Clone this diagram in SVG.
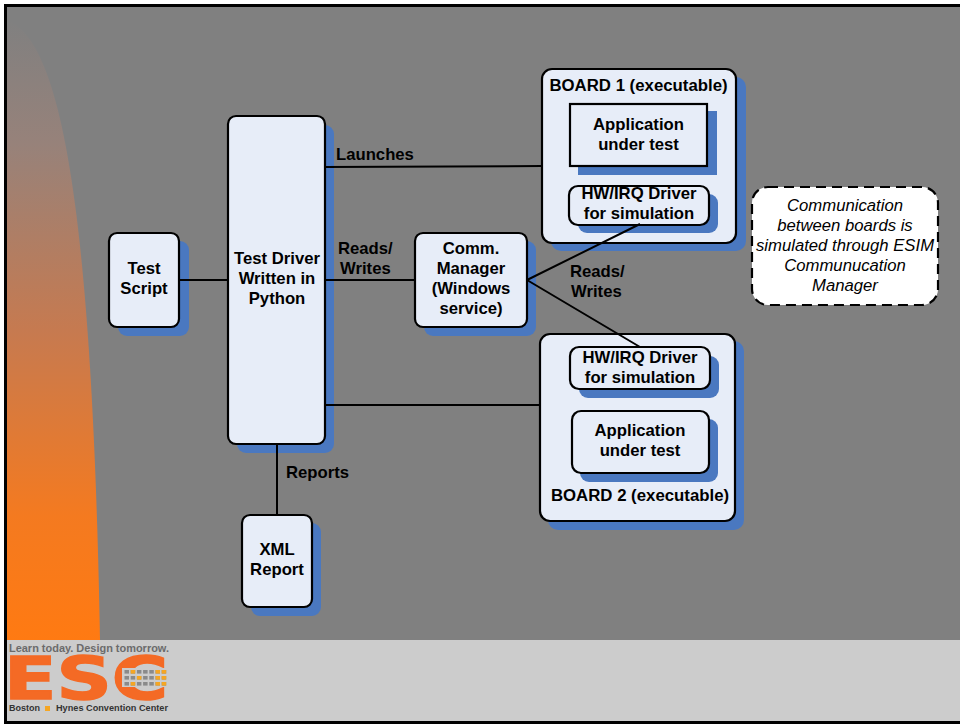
<svg xmlns="http://www.w3.org/2000/svg" width="960" height="724" viewBox="0 0 960 724">
<defs>
<linearGradient id="sw" x1="0" y1="0" x2="0" y2="1"><stop offset="0" stop-color="#808080"/><stop offset="0.2" stop-color="#97827a"/><stop offset="0.5" stop-color="#c67a50"/><stop offset="0.8" stop-color="#f47a20"/><stop offset="1" stop-color="#ff7a12"/></linearGradient>
<g id="dotrow"><rect x="0" width="4.5" height="3.6"/><rect x="6.2" width="4.5" height="3.6"/><rect x="12.4" width="4.5" height="3.6"/><rect x="18.6" width="4.5" height="3.6"/><rect x="24.8" width="4.5" height="3.6"/><rect x="31" width="4.5" height="3.6"/><rect x="37.2" width="4.5" height="3.6"/></g>
</defs>
<style>
text{font-family:"Liberation Sans",Arial,sans-serif;fill:#000}
.l{font-size:16.7px;font-weight:bold;text-anchor:middle}
.s{fill:#4a78c0}
.b{fill:#e7edf8;stroke:#000;stroke-width:2.2}
.c{stroke:#000;stroke-width:2;fill:none}
.d{fill:#f5a623}.g{fill:#8a8a8a}
</style>
<rect width="960" height="724" fill="#fff"/>
<rect x="4" y="4" width="956" height="720" fill="#000"/>
<rect x="7" y="7" width="953" height="633" fill="#808080"/>
<path d="M7 20C60 40 92 200 100 640H7Z" fill="url(#sw)"/>
<rect x="7" y="640" width="953" height="81" fill="#cccccc"/>
<g id="test-script"><rect class="s" x="118" y="241" width="71" height="95" rx="9"/><rect class="b" x="109" y="233" width="70" height="94" rx="8"/><text class="l" x="144" y="274">Test</text><text class="l" x="144" y="294">Script</text></g>
<g id="test-driver"><rect class="s" x="237" y="125" width="97" height="328" rx="9"/><rect class="b" x="228" y="116" width="97" height="328" rx="8"/><text class="l" x="277" y="264">Test Driver</text><text class="l" x="277" y="284">Written in</text><text class="l" x="277" y="304">Python</text></g>
<g id="comm-manager"><rect class="s" x="424" y="241" width="112" height="95" rx="9"/><rect class="b" x="415" y="233" width="112" height="94" rx="8"/><text class="l" x="471" y="254">Comm.</text><text class="l" x="471" y="274">Manager</text><text class="l" x="471" y="294">(Windows</text><text class="l" x="471" y="314">service)</text></g>
<g id="board-1"><rect class="s" x="551" y="77" width="195" height="174" rx="10"/><rect class="b" x="542" y="69" width="194" height="174" rx="10"/><text class="l" x="638.500" y="91" style="font-size:16.8px">BOARD 1 (executable)</text>
<g id="app-1"><rect class="s" x="578" y="111" width="139" height="64"/><rect class="b" x="570" y="104" width="137" height="62"/><text class="l" x="638.500" y="130">Application</text><text class="l" x="638.500" y="150">under test</text></g>
<g id="hw-1"><rect class="s" x="578" y="194" width="140" height="39" rx="9"/><rect class="b" x="569" y="186" width="140" height="39" rx="9"/><text class="l" x="639" y="199">HW/IRQ Driver</text><text class="l" x="639" y="219">for simulation</text></g></g>
<g id="board-2"><rect class="s" x="548" y="341" width="196" height="189" rx="10"/><rect class="b" x="540" y="334" width="195" height="187" rx="10"/>
<g id="hw-2"><rect class="s" x="579" y="356" width="140" height="42" rx="9"/><rect class="b" x="570" y="347" width="140" height="42" rx="9"/><text class="l" x="640" y="363">HW/IRQ Driver</text><text class="l" x="640" y="383">for simulation</text></g>
<g id="app-2"><rect class="s" x="580" y="419" width="138" height="63" rx="9"/><rect class="b" x="572" y="411" width="137" height="62" rx="9"/><text class="l" x="640" y="436">Application</text><text class="l" x="640" y="456">under test</text></g>
<text class="l" x="640" y="501" style="font-size:16.8px">BOARD 2 (executable)</text></g>
<g id="xml-report"><rect class="s" x="251" y="523" width="70" height="93" rx="9"/><rect class="b" x="242" y="515" width="70" height="92" rx="8"/><text class="l" x="277" y="555">XML</text><text class="l" x="277" y="575">Report</text></g>
<g id="note"><rect x="752" y="187" width="186" height="118" rx="16" fill="#fff" stroke="#000" stroke-width="2.2" stroke-dasharray="10 6"/>
<g font-style="italic" font-size="16.7" text-anchor="middle"><text x="845" y="211">Communication</text><text x="845" y="231">between boards is</text><text x="845" y="251">simulated through ESIM</text><text x="845" y="271">Communucation</text><text x="845" y="291">Manager</text></g></g>
<g id="connectors">
<path class="c" d="M179 280H228M325 167L542 166M325 280H415M325 405H540M277 444V515M527 280L640 224M527 280L640 347"/>
</g>
<g font-size="16.7" font-weight="bold" id="labels"><text x="336" y="160">Launches</text><text x="338" y="254">Reads/</text><text x="340" y="274">Writes</text><text x="570" y="277">Reads/</text><text x="571" y="297">Writes</text><text x="286" y="478">Reports</text></g>
<g id="logo">
<text x="4" y="698.500" font-size="58" font-weight="bold" style="font-family:'DejaVu Sans',sans-serif;fill:#f46a25;stroke:#f46a25;stroke-width:1.500" textLength="164" lengthAdjust="spacingAndGlyphs">ESC</text>
<text x="9" y="652" font-size="11.500" font-weight="bold" style="fill:#6b6b6b" textLength="160" lengthAdjust="spacingAndGlyphs">Learn today. Design tomorrow.</text>
<rect x="122" y="668" width="48" height="19" fill="#cccccc"/>
<use href="#dotrow" x="124.500" y="670" class="g"/><use href="#dotrow" x="124.500" y="676" class="g"/><use href="#dotrow" x="124.500" y="682" class="g"/>
<rect class="d" x="130.700" y="670" width="4.500" height="3.600"/><rect class="d" x="155.500" y="670" width="4.500" height="3.600"/><rect class="d" x="161.700" y="670" width="4.500" height="3.600"/>
<rect class="d" x="136.900" y="676" width="4.500" height="3.600"/><rect class="d" x="155.500" y="676" width="4.500" height="3.600"/><rect class="d" x="161.700" y="676" width="4.500" height="3.600"/>
<rect class="d" x="130.700" y="682" width="4.500" height="3.600"/><rect class="d" x="155.500" y="682" width="4.500" height="3.600"/><rect class="d" x="161.700" y="682" width="4.500" height="3.600"/>
<text x="9" y="711" font-size="9.500" font-weight="bold" style="fill:#333" textLength="31" lengthAdjust="spacingAndGlyphs">Boston</text>
<rect class="d" x="45" y="706" width="5" height="5"/>
<text x="56" y="711" font-size="9.500" font-weight="bold" style="fill:#333" textLength="112" lengthAdjust="spacingAndGlyphs">Hynes Convention Center</text>
</g>
</svg>
